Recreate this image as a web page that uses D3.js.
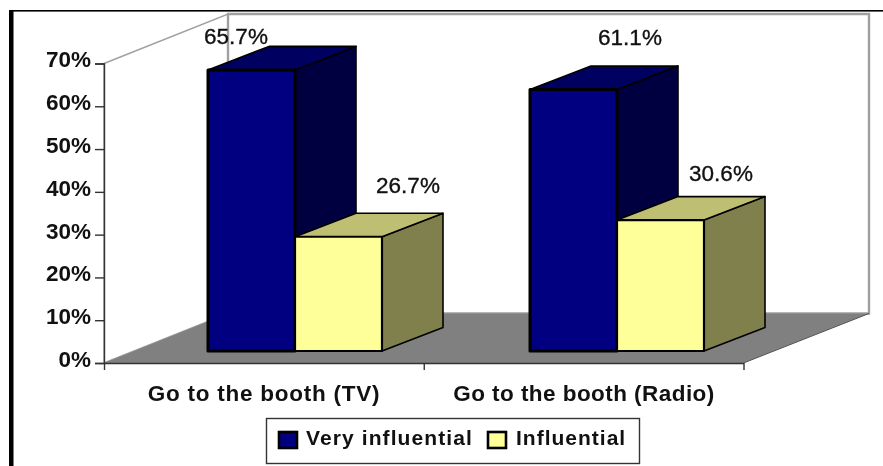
<!DOCTYPE html>
<html>
<head>
<meta charset="utf-8">
<script src="https://cdn.jsdelivr.net/npm/d3@7"></script>
<style>
  body { margin: 0; background: #fff; }
  svg { display: block; filter: blur(0.45px); }
  text { font-family: "Liberation Sans", Arial, sans-serif; fill: #111; }
</style>
</head>
<body>
<div id="chart"></div>
<script>
const categories = ["Go to the booth (TV)", "Go to the booth (Radio)"];
const seriesNames = ["Very influential", "Influential"];
const veryInfluential = [65.7, 61.1];
const influential = [26.7, 30.6];
const yTicks = [0, 10, 20, 30, 40, 50, 60, 70];

const frontColors = ["#000080", "#ffff99"];
const topColors = ["#000060", "#bfbf73"];
const sideColors = ["#000040", "#80804d"];

const svg = d3.select("#chart").append("svg")
    .attr("width", 883)
    .attr("height", 466);

// 比例尺
const y = d3.scaleLinear().domain([0, 70]).range([363, 63.5]);
const xEdge = d3.scaleLinear().domain([0, 2]).range([104, 743.5]);
const xLabel = d3.scalePoint().domain(categories).range([264, 584]);
const xGroup = d3.scalePoint().domain(categories).range([208, 530]);
const xBar = d3.scaleBand().domain(seriesNames).range([0, 174]);

const wallDx = 124, wallDy = -49.5;   // 牆面深度
const barDx = 61, barDy = -23.5;      // 柱子深度
const barLift = 12;                   // 柱子離地板前緣的距離

// 數值標籤相對柱子頂部中心的位移 [series][category]
const labelShift = [
    [[-15.5, -2], [56.5, -21]],
    [[69.5, -20], [60.5, -16]]
];

const poly = pts => pts.map(p => p.join(",")).join(" ");

// 外框
svg.append("rect").attr("x", 9).attr("y", 10).attr("width", 4.5).attr("height", 456).attr("fill", "#000");
svg.append("rect").attr("x", 9).attr("y", 10).attr("width", 874).attr("height", 1.6).attr("fill", "#000");

// 牆面與地板
const x0 = xEdge(0), x1 = xEdge(2), yb = y(0), yt = y(70);
svg.append("polygon")
    .attr("points", poly([[x0, yt], [x0 + wallDx, yt + wallDy], [x0 + wallDx, yb + wallDy], [x0, yb]]))
    .attr("fill", "#fff").attr("stroke", "#a0a0a0").attr("stroke-width", 1.5);
svg.append("polygon")
    .attr("points", poly([[x0 + wallDx, yt + wallDy], [x1 + wallDx + 1.5, yt + wallDy], [x1 + wallDx + 1.5, yb + wallDy], [x0 + wallDx, yb + wallDy]]))
    .attr("fill", "#fff").attr("stroke", "#a0a0a0").attr("stroke-width", 2.4);
svg.append("polygon")
    .attr("points", poly([[x0, yb], [x0 + wallDx, yb + wallDy], [x1 + wallDx + 1.5, yb + wallDy], [x1, yb]]))
    .attr("fill", "#808080");
svg.append("line")
    .attr("x1", x1).attr("y1", yb).attr("x2", x1 + wallDx + 1.5).attr("y2", yb + wallDy)
    .attr("stroke", "#555").attr("stroke-width", 1);

// 座標軸
const yAxis = svg.append("g")
    .attr("transform", `translate(${x0},0)`)
    .call(d3.axisLeft(y).tickValues(yTicks).tickSize(9).tickPadding(4).tickFormat(d => d + "%"));
yAxis.selectAll("path, line").attr("stroke", "#333").attr("stroke-width", 1.4);
yAxis.selectAll("text").style("font-size", "22.5px").style("font-weight", "bold").attr("dy", "0.15em");

const xAxis = svg.append("g")
    .attr("transform", `translate(0,${yb})`)
    .call(d3.axisBottom(xEdge).tickValues([0, 1, 2]).tickSize(7).tickSizeOuter(0).tickFormat(""));
xAxis.selectAll("path, line").attr("stroke", "#333").attr("stroke-width", 1.4);

svg.selectAll(".cat-label")
    .data(categories)
    .enter()
    .append("text")
    .attr("class", "cat-label")
    .attr("x", d => xLabel(d))
    .attr("y", 401)
    .attr("text-anchor", "middle")
    .style("font-size", "22.5px")
    .style("font-weight", "bold")
    .style("font-kerning", "none")
    .style("letter-spacing", (d, i) => i === 0 ? "0.75px" : "0.45px")
    .text(d => d);

// 柱子
const seriesValues = [veryInfluential, influential];
seriesNames.forEach((name, s) => {
    categories.forEach((cat, c) => {
        const left = xGroup(cat) + xBar(name);
        const right = left + xBar.bandwidth();
        const bottom = yb - barLift;
        const top = y(seriesValues[s][c]) - barLift;
        const stroke = s === 0 ? 3 : 2.2;
        const g = svg.append("g")
            .attr("stroke", "#000")
            .attr("stroke-width", stroke)
            .attr("stroke-linejoin", "round");
        g.append("polygon")
            .attr("points", poly([[right, top], [right + barDx, top + barDy], [right + barDx, bottom + barDy], [right, bottom]]))
            .attr("fill", sideColors[s])
            .attr("stroke-width", 1.6);
        g.append("polygon")
            .attr("points", poly([[left, top], [left + barDx, top + barDy], [right + barDx, top + barDy], [right, top]]))
            .attr("fill", topColors[s])
            .attr("stroke-width", 1.6);
        g.append("rect")
            .attr("x", left)
            .attr("y", top)
            .attr("width", right - left)
            .attr("height", bottom - top)
            .attr("fill", frontColors[s]);
    });
});

// 數值標籤
seriesNames.forEach((name, s) => {
    categories.forEach((cat, c) => {
        const centre = xGroup(cat) + xBar(name) + xBar.bandwidth() / 2;
        const top = y(seriesValues[s][c]) - barLift + barDy;
        svg.append("text")
            .attr("x", centre + labelShift[s][c][0])
            .attr("y", top + labelShift[s][c][1])
            .attr("text-anchor", "middle")
            .attr("stroke", "#111")
            .attr("stroke-width", 0.35)
            .style("font-size", "22.5px")
            .text(seriesValues[s][c].toFixed(1) + "%");
    });
});

// 圖例
const legend = svg.append("g");
legend.append("rect")
    .attr("x", 266.5).attr("y", 418.5).attr("width", 373).attr("height", 45)
    .attr("fill", "#fff").attr("stroke", "#333").attr("stroke-width", 1.4);
const legendX = d3.scaleOrdinal().domain(seriesNames).range([279, 488]);
seriesNames.forEach((name, s) => {
    legend.append("rect")
        .attr("x", legendX(name)).attr("y", 432)
        .attr("width", 18).attr("height", 16)
        .attr("fill", frontColors[s]).attr("stroke", "#000").attr("stroke-width", 2.6);
    legend.append("text")
        .attr("x", legendX(name) + 27 + (s === 1 ? 1 : 0))
        .attr("y", 445)
        .style("font-size", "21px")
        .style("font-weight", "bold")
        .style("letter-spacing", s === 0 ? "1.1px" : "1px")
        .text(name);
});
</script>
</body>
</html>
